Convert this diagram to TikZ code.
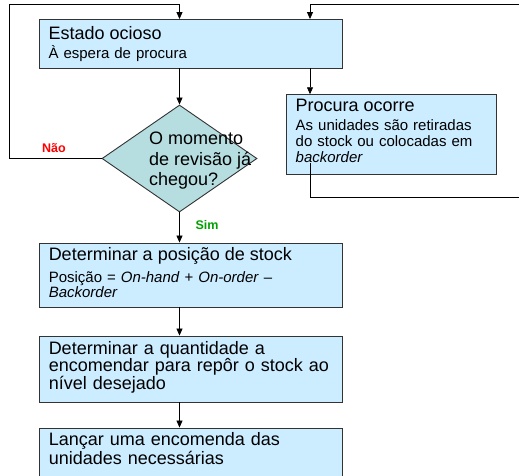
\documentclass[tikz,border=0pt]{standalone}
\usepackage{fontspec}
\setmainfont{Liberation Sans}
\usetikzlibrary{shapes.geometric,arrows.meta}
\setlength{\lineskiplimit}{-20pt}
\definecolor{boxfill}{HTML}{CCECFF}
\definecolor{dfill}{HTML}{B6DEE0}
\definecolor{edgec}{HTML}{333333}
\definecolor{naoc}{HTML}{FF0000}
\definecolor{simc}{HTML}{00A000}
\newcommand{\xdepth}[1]{\rule[-#1]{0pt}{0pt}}
\begin{document}
\begin{tikzpicture}[x=1pt,y=-1pt,
  box/.style={draw=edgec,fill=boxfill,line width=0.9pt,rectangle,align=left,
    inner xsep=9pt,inner ysep=0pt,minimum width=302.5pt,text width=284.5pt},
  arr/.style={line width=0.8pt,-{Triangle[length=7pt,width=6pt]}},
  ln/.style={line width=0.9pt},
  lbl/.style={font=\bfseries\fontsize{12.5}{13}\selectfont,inner sep=0pt}]
\useasboundingbox (0,0) rectangle (519,475);
\clip (0,0) rectangle (519,475);

\node[box,minimum height=48.5pt,font=\fontsize{15}{19}\selectfont] (estado) at (190.75,43.75)
  {{\fontsize{18}{19}\selectfont Estado ocioso}\\ À espera de procura};

\node[box,minimum width=209.3pt,text width=191.3pt,minimum height=79.3pt,
  font=\fontsize{15}{16}\selectfont] (procura) at (391.35,134.35)
  {{\fontsize{18}{16}\selectfont Procura ocorre}\\[3pt] As unidades são retiradas\\ do stock ou colocadas em\\ \textit{backorder}\xdepth{7pt}};

\node[diamond,draw=edgec,fill=dfill,line width=0.9pt,minimum width=155pt,minimum height=107pt,inner sep=0pt] (d) at (179.5,158.5) {};
\node[anchor=north west,inner sep=0pt,align=left,font=\fontsize{18}{20.5}\selectfont] (dq) at (149,132)
  {O momento\\ de revisão já\\ chegou?};

\node[box,minimum height=64pt,font=\fontsize{15}{12.5}\selectfont] (pos) at (191,275)
  {{\fontsize{18}{12.5}\selectfont Determinar a posição de stock}\\[7.2pt] Posição = \textit{On-hand} + \textit{On-order} –\\ \textit{Backorder}\xdepth{5pt}};

\node[box,minimum height=66pt,font=\fontsize{18}{16.7}\selectfont] (qty) at (191,369)
  {Determinar a quantidade a\\ encomendar para repôr o stock ao\\ nível desejado\xdepth{7pt}};

\node[box,minimum height=50pt,font=\fontsize{18}{16.5}\selectfont] (lanca) at (191,453)
  {Lançar uma encomenda das\\ unidades necessárias\xdepth{9pt}};

\node[lbl,text=naoc] (nao) at (54,148.5) {Não};
\node[lbl,text=simc] (sim) at (207,225) {Sim};

\coordinate (px) at (310,0);
\coordinate (lc) at (9.5,4.5);
\coordinate (rt) at (519,4.5);
\coordinate (rb) at (519,197);
\coordinate (ps) at (310,163);

\draw[arr] (d.west) -| (lc) -| (d.north |- estado.north);
\draw[arr] (d.north |- estado.south) -- (d.north);
\draw[arr] (px |- estado.south) -- (px |- procura.north);
\draw[arr] (rt) -| (px |- estado.north);
\draw[ln] (ps) |- (rb);
\draw[arr] (d.south) -- (d.south |- pos.north);
\draw[arr] (d.south |- pos.south) -- (d.south |- qty.north);
\draw[arr] (d.south |- qty.south) -- (d.south |- lanca.north);
\end{tikzpicture}
\end{document}
